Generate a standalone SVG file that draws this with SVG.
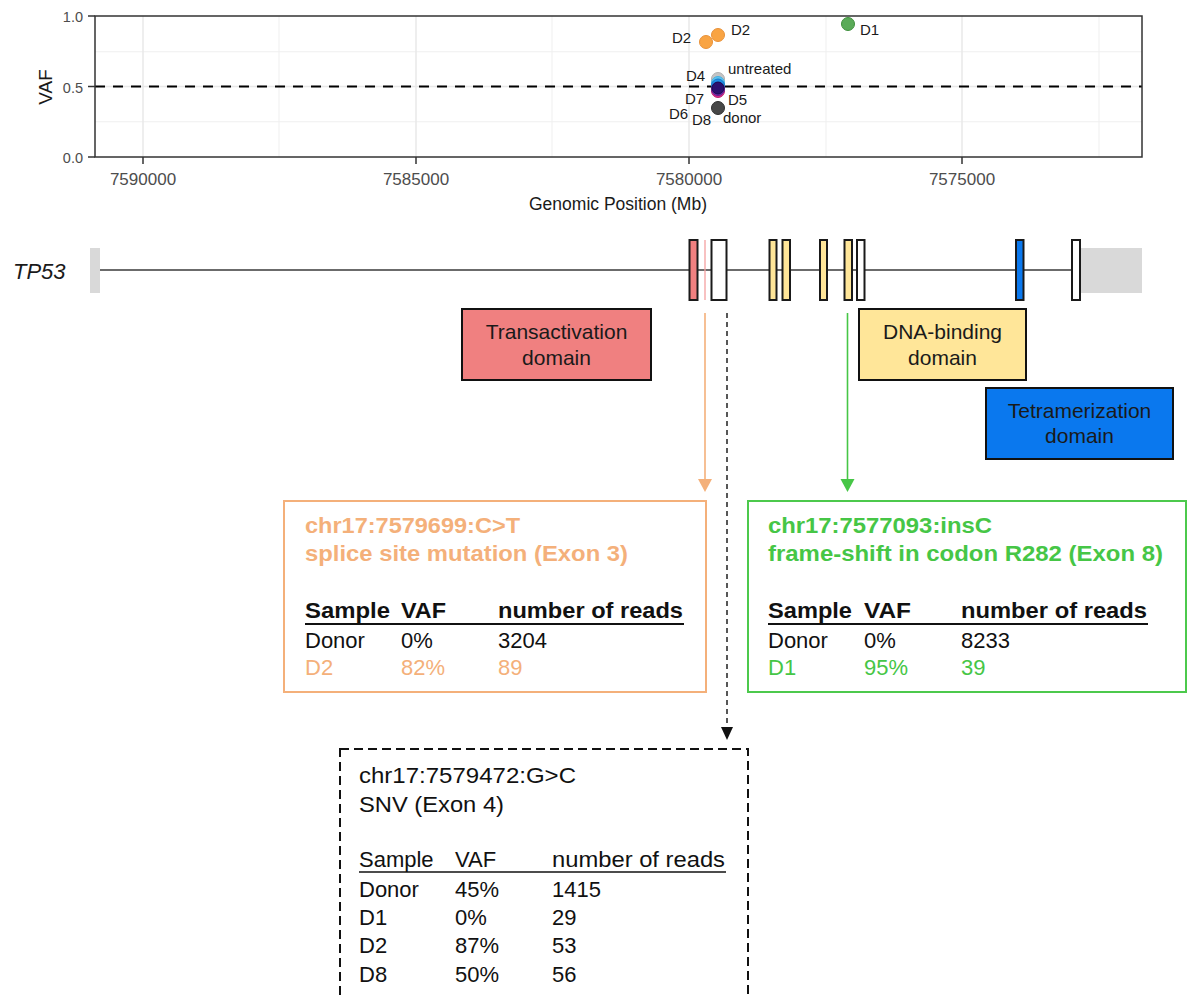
<svg xmlns="http://www.w3.org/2000/svg" width="1187" height="999" viewBox="0 0 1187 999">
<style>
text{font-family:"Liberation Sans",Arial,sans-serif;}
.tick{font-size:17px;fill:#4d4d4d;text-anchor:middle;}
.ytick{font-size:14.5px;fill:#4d4d4d;text-anchor:end;}
.lbl{font-size:15px;fill:#1a1a1a;}
.gmaj{stroke:#e8e8e8;stroke-width:1.5;}
.gmin{stroke:#efefef;stroke-width:1;}
.ax{stroke:#333;stroke-width:1.5;}
.exon{stroke:#1a1a1a;stroke-width:2;}
.dom{stroke:#111;stroke-width:2;}
.domt{font-size:21px;fill:#1a1a1a;text-anchor:middle;}
.t{font-size:22px;}
.b{font-size:22px;font-weight:bold;}
.or{fill:#f4b07a;}
.gr{fill:#46c646;}
.bk{fill:#111;}
</style>
<rect width="1187" height="999" fill="#fff"/>
<g id="vaf-plot">
  <g id="grid">
    <line class="gmin" x1="95" y1="51.75" x2="1142" y2="51.75"/>
    <line class="gmin" x1="95" y1="121.75" x2="1142" y2="121.75"/>
    <line class="gmin" x1="279" y1="16" x2="279" y2="157"/>
    <line class="gmin" x1="552" y1="16" x2="552" y2="157"/>
    <line class="gmin" x1="826" y1="16" x2="826" y2="157"/>
    <line class="gmin" x1="1099" y1="16" x2="1099" y2="157"/>
    <line class="gmaj" x1="95" y1="86.5" x2="1142" y2="86.5"/>
    <line class="gmaj" x1="143" y1="16" x2="143" y2="157"/>
    <line class="gmaj" x1="416" y1="16" x2="416" y2="157"/>
    <line class="gmaj" x1="689" y1="16" x2="689" y2="157"/>
    <line class="gmaj" x1="962" y1="16" x2="962" y2="157"/>
  </g>
  <line x1="95" y1="86.5" x2="1142" y2="86.5" stroke="#000" stroke-width="2" stroke-dasharray="10 8"/>
  <g id="points" stroke-width="1">
    <circle cx="848" cy="24" r="6.5" fill="#5aab58" stroke="#3f8f3d"/>
    <circle cx="706" cy="42" r="6.5" fill="#f9a443" stroke="#e8923a"/>
    <circle cx="718" cy="35" r="6.5" fill="#f9a443" stroke="#e8923a"/>
    <circle cx="718" cy="79" r="6.5" fill="#c4c4c4" stroke="#b0b0b0"/>
    <circle cx="718" cy="83" r="6.5" fill="#5cc3f0" stroke="#45b0e0"/>
    <circle cx="718" cy="85.5" r="6.5" fill="#1e8fe8" stroke="#1878c8"/>
    <circle cx="718" cy="91" r="6.5" fill="#d9288a" stroke="#b82070"/>
    <circle cx="718" cy="89" r="6.5" fill="#7a2fb8" stroke="#602090"/>
    <circle cx="718" cy="88" r="6" fill="#2a1070" stroke="#1a0a50"/>
    <circle cx="718" cy="108" r="6.5" fill="#474747" stroke="#303030"/>
  </g>
  <g id="point-labels">
    <text class="lbl" x="860" y="35">D1</text>
    <text class="lbl" x="672" y="43">D2</text>
    <text class="lbl" x="731" y="35">D2</text>
    <text class="lbl" x="728" y="74">untreated</text>
    <text class="lbl" x="686" y="81">D4</text>
    <text class="lbl" x="685" y="104">D7</text>
    <text class="lbl" x="728" y="105">D5</text>
    <text class="lbl" x="669" y="119">D6</text>
    <text class="lbl" x="692" y="125">D8</text>
    <text class="lbl" x="723" y="123">donor</text>
  </g>
  <rect x="95" y="16" width="1047" height="141" fill="none" class="ax"/>
  <g id="ticks" class="ax">
    <line x1="88" y1="16" x2="95" y2="16"/>
    <line x1="88" y1="86.5" x2="95" y2="86.5"/>
    <line x1="88" y1="157" x2="95" y2="157"/>
    <line x1="143" y1="157" x2="143" y2="164"/>
    <line x1="416" y1="157" x2="416" y2="164"/>
    <line x1="689" y1="157" x2="689" y2="164"/>
    <line x1="962" y1="157" x2="962" y2="164"/>
  </g>
  <text class="ytick" x="83" y="22">1.0</text>
  <text class="ytick" x="83" y="92.5">0.5</text>
  <text class="ytick" x="83" y="162.5">0.0</text>
  <text class="tick" x="143" y="185">7590000</text>
  <text class="tick" x="416" y="185">7585000</text>
  <text class="tick" x="689" y="185">7580000</text>
  <text class="tick" x="962" y="185">7575000</text>
  <text x="618" y="210" font-size="17.5" fill="#1a1a1a" text-anchor="middle">Genomic Position (Mb)</text>
  <text transform="translate(52,87) rotate(-90)" font-size="19" fill="#1a1a1a" text-anchor="middle">VAF</text>
</g>
<g id="gene-track">
  <text x="13" y="279" font-size="22" font-style="italic" fill="#1a1a1a">TP53</text>
  <rect x="90" y="248" width="10" height="45" fill="#d9d9d9"/>
  <rect x="1080" y="248" width="62" height="45" fill="#d9d9d9"/>
  <line x1="100" y1="270" x2="1080" y2="270" stroke="#3a3a3a" stroke-width="1.6"/>
  <rect class="exon" x="689.5" y="240" width="8" height="60" fill="#f08080"/>
  <line x1="705" y1="240" x2="705" y2="300" stroke="#f4a0a0" stroke-width="1.3"/>
  <rect class="exon" x="711.5" y="240" width="15" height="60" fill="#fff"/>
  <rect class="exon" x="769.5" y="240" width="7" height="60" fill="#ffe699"/>
  <rect class="exon" x="782.5" y="240" width="7.5" height="60" fill="#ffe699"/>
  <rect class="exon" x="820" y="240" width="7" height="60" fill="#ffe699"/>
  <rect class="exon" x="844.5" y="240" width="7.5" height="60" fill="#ffe699"/>
  <rect class="exon" x="857" y="240" width="7.5" height="60" fill="#fff"/>
  <rect class="exon" x="1016" y="240" width="7.5" height="60" fill="#0a78ee"/>
  <rect class="exon" x="1072" y="240" width="8" height="60" fill="#fff"/>
</g>
<g id="transactivation-domain">
  <rect class="dom" x="462" y="309" width="189" height="71" fill="#f08080"/>
  <text class="domt" x="556.5" y="339">Transactivation</text>
  <text class="domt" x="556.5" y="365">domain</text>
</g>
<g id="dna-binding-domain">
  <rect class="dom" x="859" y="309" width="167" height="71" fill="#ffe699"/>
  <text class="domt" x="942.5" y="339">DNA-binding</text>
  <text class="domt" x="942.5" y="365">domain</text>
</g>
<g id="tetramerization-domain">
  <rect class="dom" x="986" y="388" width="187" height="71" fill="#0a78ee"/>
  <text class="domt" x="1079.5" y="418">Tetramerization</text>
  <text class="domt" x="1079.5" y="443">domain</text>
</g>
<g id="connectors">
  <line x1="705" y1="313" x2="705" y2="481" stroke="#f4b07a" stroke-width="1.6"/>
  <polygon points="698,479 712,479 705,492" fill="#f4b07a"/>
  <line x1="847.5" y1="313" x2="847.5" y2="481" stroke="#46c646" stroke-width="1.6"/>
  <polygon points="840.5,479 854.5,479 847.5,492" fill="#46c646"/>
  <line x1="727" y1="313" x2="727" y2="729" stroke="#111" stroke-width="1.4" stroke-dasharray="5 4"/>
  <polygon points="721,727 733,727 727,740" fill="#111"/>
</g>
<g id="splice-site-box">
  <rect x="284" y="501" width="422" height="191" fill="none" stroke="#f4b07a" stroke-width="2"/>
  <text class="b or" x="305" y="533" textLength="215" lengthAdjust="spacingAndGlyphs">chr17:7579699:C&gt;T</text>
  <text class="b or" x="305" y="561" textLength="323" lengthAdjust="spacingAndGlyphs">splice site mutation (Exon 3)</text>
  <text class="b bk" x="305" y="618" textLength="85" lengthAdjust="spacingAndGlyphs">Sample</text>
  <text class="b bk" x="401" y="618" textLength="45" lengthAdjust="spacingAndGlyphs">VAF</text>
  <text class="b bk" x="498" y="618" textLength="185" lengthAdjust="spacingAndGlyphs">number of reads</text>
  <line x1="305" y1="624" x2="684" y2="624" stroke="#111" stroke-width="2"/>
  <text class="t bk" x="305" y="648">Donor</text>
  <text class="t bk" x="401" y="648">0%</text>
  <text class="t bk" x="498" y="648">3204</text>
  <text class="t or" x="305" y="675">D2</text>
  <text class="t or" x="401" y="675">82%</text>
  <text class="t or" x="498" y="675">89</text>
</g>
<g id="frameshift-box">
  <rect x="748" y="501" width="438" height="191" fill="none" stroke="#4cc94c" stroke-width="2"/>
  <text class="b gr" x="768" y="533" textLength="224" lengthAdjust="spacingAndGlyphs">chr17:7577093:insC</text>
  <text class="b gr" x="768" y="561" textLength="395" lengthAdjust="spacingAndGlyphs">frame-shift in codon R282 (Exon 8)</text>
  <text class="b bk" x="768" y="618" textLength="84" lengthAdjust="spacingAndGlyphs">Sample</text>
  <text class="b bk" x="864" y="618" textLength="47" lengthAdjust="spacingAndGlyphs">VAF</text>
  <text class="b bk" x="961" y="618" textLength="186" lengthAdjust="spacingAndGlyphs">number of reads</text>
  <line x1="768" y1="624" x2="1148" y2="624" stroke="#111" stroke-width="2"/>
  <text class="t bk" x="768" y="648">Donor</text>
  <text class="t bk" x="864" y="648">0%</text>
  <text class="t bk" x="961" y="648">8233</text>
  <text class="t gr" x="768" y="675">D1</text>
  <text class="t gr" x="864" y="675">95%</text>
  <text class="t gr" x="961" y="675">39</text>
</g>
<g id="snv-box">
  <rect x="340" y="749" width="408" height="275" fill="none" stroke="#111" stroke-width="2" stroke-dasharray="9 5"/>
  <text class="t bk" x="359" y="783" textLength="217" lengthAdjust="spacingAndGlyphs">chr17:7579472:G&gt;C</text>
  <text class="t bk" x="359" y="812" textLength="145" lengthAdjust="spacingAndGlyphs">SNV (Exon 4)</text>
  <text class="t bk" x="359" y="867">Sample</text>
  <text class="t bk" x="455" y="867">VAF</text>
  <text class="t bk" x="552" y="867" textLength="173" lengthAdjust="spacingAndGlyphs">number of reads</text>
  <line x1="359" y1="872" x2="726" y2="872" stroke="#111" stroke-width="1.5"/>
  <text class="t bk" x="359" y="897">Donor</text>
  <text class="t bk" x="455" y="897">45%</text>
  <text class="t bk" x="552" y="897">1415</text>
  <text class="t bk" x="359" y="925">D1</text>
  <text class="t bk" x="455" y="925">0%</text>
  <text class="t bk" x="552" y="925">29</text>
  <text class="t bk" x="359" y="953">D2</text>
  <text class="t bk" x="455" y="953">87%</text>
  <text class="t bk" x="552" y="953">53</text>
  <text class="t bk" x="359" y="982">D8</text>
  <text class="t bk" x="455" y="982">50%</text>
  <text class="t bk" x="552" y="982">56</text>
</g>
</svg>
